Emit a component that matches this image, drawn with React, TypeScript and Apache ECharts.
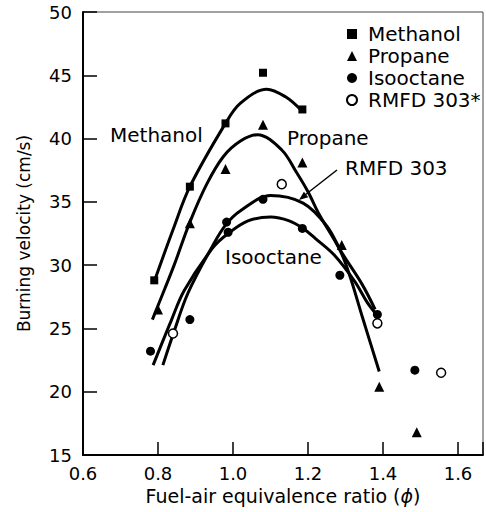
import React, { useEffect, useRef } from "react";
import * as echarts from "echarts";

// Measured points (φ, burning velocity cm/s)
const methanolPts = [[0.79, 28.8], [0.885, 36.2], [0.98, 41.2], [1.08, 45.2], [1.185, 42.3]];
const propanePts = [[0.8, 26.5], [0.885, 33.3], [0.98, 37.6], [1.08, 41.1], [1.185, 38.1], [1.29, 31.6], [1.39, 20.4], [1.49, 16.8]];
const isooctanePts = [[0.78, 23.2], [0.885, 25.7], [0.983, 33.4], [0.987, 32.6], [1.08, 35.2], [1.185, 32.9], [1.285, 29.2], [1.385, 26.1], [1.485, 21.7]];
const rmfdPts = [[0.84, 24.6], [1.13, 36.4], [1.385, 25.4], [1.555, 21.5]];

// Fitted curves
const methanolFit = [[0.79, 28.7], [0.84, 32.8], [0.885, 36.2], [0.98, 41.2], [1.02, 42.8], [1.09, 43.9], [1.14, 43.3], [1.18, 42.3]];
const propaneFit = [[0.785, 25.7], [0.8, 26.8], [0.843, 30.0], [0.885, 33.4], [0.93, 36.4], [0.975, 38.6], [1.02, 39.8], [1.065, 40.3], [1.13, 39.1], [1.17, 37.3], [1.2, 35.8], [1.23, 34.0], [1.285, 31.2], [1.31, 29.3], [1.345, 25.9], [1.39, 21.6]];
const rmfdFit = [[0.813, 22.1], [0.84, 24.5], [0.88, 27.8], [0.947, 31.6], [0.981, 33.2], [1.02, 34.3], [1.1, 35.5], [1.187, 34.9], [1.25, 33.1], [1.29, 31.0], [1.344, 28.5], [1.379, 26.5]];
const isooctaneFit = [[0.787, 22.1], [0.835, 25.6], [0.87, 28.0], [0.947, 31.4], [0.987, 32.5], [1.04, 33.5], [1.1, 33.8], [1.15, 33.5], [1.187, 32.9], [1.22, 32.1], [1.27, 30.8], [1.325, 28.7], [1.357, 27.1], [1.38, 26.2]];

const legendNames = ["Methanol", "Propane", "Isooctane", "RMFD 303*"];

export default function App() {
  const ref = useRef<HTMLDivElement>(null);
  useEffect(() => {
    const chart = echarts.init(ref.current!, undefined, { renderer: "svg" });
    const font = "DejaVu Sans";
    const fit = (name: string, data: number[][]) => ({
      name,
      type: "line",
      data,
      smooth: 0.35,
      symbol: "none",
      silent: true,
      lineStyle: { color: "#000", width: 3 },
      z: 2,
    });
    const label = (text: string, x: number, y: number) => ({
      type: "text",
      x,
      y,
      z: 10,
      style: {
        text,
        fontFamily: font,
        fontSize: 20,
        fill: "#000",
        align: "left",
        verticalAlign: "middle",
        textAlign: "left",
        textVerticalAlign: "middle",
      },
    });
    chart.setOption({
      animation: false,
      backgroundColor: "#fff",
      grid: { left: 83, right: 3, top: 12, bottom: 57, show: true, borderColor: "#444", borderWidth: 1 },
      xAxis: {
        type: "value",
        min: 0.6,
        max: 1.6667,
        interval: 0.2,
        name: "Fuel-air equivalence ratio ({i|ϕ})",
        nameLocation: "middle",
        nameGap: 31,
        nameTextStyle: {
          fontFamily: font,
          fontSize: 19,
          color: "#000",
          rich: { i: { fontFamily: font, fontSize: 19, fontStyle: "italic", color: "#000" } },
        },
        axisLine: { lineStyle: { color: "#000", width: 2 } },
        axisTick: { inside: true, length: 13, lineStyle: { color: "#000", width: 1.5 } },
        axisLabel: {
          fontFamily: font,
          fontSize: 18,
          color: "#000",
          margin: 9,
          formatter: (v: number) => (Math.abs(v * 5 - Math.round(v * 5)) < 1e-6 ? v.toFixed(1) : ""),
        },
        splitLine: { show: false },
      },
      yAxis: {
        type: "value",
        min: 15,
        max: 50,
        interval: 5,
        name: "Burning velocity (cm/s)",
        nameLocation: "middle",
        nameGap: 51,
        nameTextStyle: { fontFamily: font, fontSize: 17, color: "#000" },
        axisLine: { show: true, lineStyle: { color: "#000", width: 2 } },
        axisTick: { inside: true, length: 14, lineStyle: { color: "#000", width: 1.5 } },
        axisLabel: { fontFamily: font, fontSize: 18, color: "#000", margin: 11 },
        splitLine: { show: false },
      },
      legend: {
        data: legendNames,
        orient: "vertical",
        left: 341,
        top: 19,
        itemGap: 2,
        itemWidth: 10,
        itemHeight: 10,
        selectedMode: false,
        textStyle: { fontFamily: font, fontSize: 20, color: "#000", padding: [0, 0, 0, 6] },
      },
      series: [
        fit("Methanol fit", methanolFit),
        fit("Propane fit", propaneFit),
        fit("RMFD fit", rmfdFit),
        fit("Isooctane fit", isooctaneFit),
        { name: legendNames[0], type: "scatter", data: methanolPts, symbol: "rect", symbolSize: 8, itemStyle: { color: "#000", opacity: 1 }, z: 3 },
        { name: legendNames[1], type: "scatter", data: propanePts, symbol: "triangle", symbolSize: 10, itemStyle: { color: "#000", opacity: 1 }, z: 3 },
        { name: legendNames[2], type: "scatter", data: isooctanePts, symbol: "circle", symbolSize: 9, itemStyle: { color: "#000", opacity: 1 }, z: 3 },
        { name: legendNames[3], type: "scatter", data: rmfdPts, symbol: "circle", symbolSize: 9, itemStyle: { color: "#fff", borderColor: "#000", borderWidth: 1.5, opacity: 1 }, z: 4 },
      ],
      graphic: [
        label("Methanol", 110, 135),
        label("Propane", 287, 138),
        label("RMFD 303", 345, 168),
        label("Isooctane", 225, 257),
        { type: "line", z: 10, shape: { x1: 337, y1: 170, x2: 305, y2: 195 }, style: { stroke: "#000", lineWidth: 1.5 } },
        { type: "polygon", z: 10, shape: { points: [[299, 200], [308.3, 197.2], [303.9, 191.7]] }, style: { fill: "#000" } },
      ],
    });
    return () => chart.dispose();
  }, []);
  return <div ref={ref} style={{ position: "fixed", left: 0, top: 0, width: 486, height: 512 }} />;
}
